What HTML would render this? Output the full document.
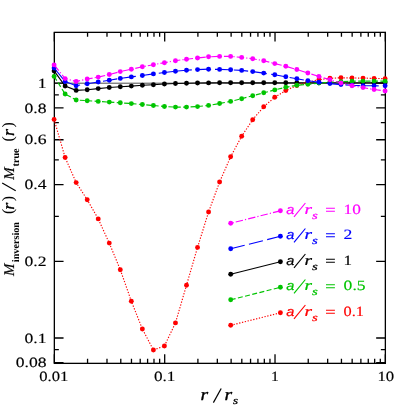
<!DOCTYPE html>
<html><head><meta charset="utf-8"><title>plot</title><style>
html,body{margin:0;padding:0;background:#fff;}
body{width:407px;height:407px;overflow:hidden;}
svg{display:block;will-change:transform;}
text{font-family:"Liberation Sans",sans-serif;text-rendering:geometricPrecision;}
.tl{font-family:"Liberation Serif",serif;font-size:142px;fill:#000;stroke:#000;stroke-width:1.5px;}
.lv{font-family:"Liberation Serif",serif;font-size:142px;stroke-width:1.5px;}
.sa{font-family:"Liberation Sans",sans-serif;font-style:italic;font-size:132px;}
.ri{font-family:"Liberation Serif",serif;font-style:italic;font-size:148px;}
.si{font-family:"Liberation Serif",serif;font-style:italic;font-size:110px;}
.rb{font-family:"Liberation Serif",serif;font-style:italic;font-size:170px;fill:#000;stroke:#000;stroke-width:3.5px;}
.sb{font-family:"Liberation Serif",serif;font-style:italic;font-size:108px;fill:#000;stroke:#000;stroke-width:3px;}
.mi{font-family:"Liberation Serif",serif;font-style:italic;font-size:150px;fill:#000;stroke:#000;stroke-width:2px;}
.par{font-family:"Liberation Serif",serif;font-size:160px;fill:#000;}
.sub{font-family:"Liberation Serif",serif;font-weight:bold;font-size:102px;fill:#000;}
</style></head><body>
<svg width="407" height="407" viewBox="0 0 407 407">
<rect width="407" height="407" fill="#fff"/>
<line x1="54.35" y1="83.2" x2="385.36" y2="83.2" stroke="#000" stroke-width="0.7"/>
<path d="M54.35 363.36 v-9.2 M54.35 32.36 v9.2 M87.56 363.36 v-4.5 M87.56 32.36 v4.5 M106.99 363.36 v-4.5 M106.99 32.36 v4.5 M120.78 363.36 v-4.5 M120.78 32.36 v4.5 M131.47 363.36 v-4.5 M131.47 32.36 v4.5 M140.21 363.36 v-4.5 M140.21 32.36 v4.5 M147.60 363.36 v-4.5 M147.60 32.36 v4.5 M153.99 363.36 v-4.5 M153.99 32.36 v4.5 M159.64 363.36 v-4.5 M159.64 32.36 v4.5 M164.69 363.36 v-9.2 M164.69 32.36 v9.2 M197.90 363.36 v-4.5 M197.90 32.36 v4.5 M217.33 363.36 v-4.5 M217.33 32.36 v4.5 M231.12 363.36 v-4.5 M231.12 32.36 v4.5 M241.81 363.36 v-4.5 M241.81 32.36 v4.5 M250.55 363.36 v-4.5 M250.55 32.36 v4.5 M257.93 363.36 v-4.5 M257.93 32.36 v4.5 M264.33 363.36 v-4.5 M264.33 32.36 v4.5 M269.97 363.36 v-4.5 M269.97 32.36 v4.5 M275.02 363.36 v-9.2 M275.02 32.36 v9.2 M308.24 363.36 v-4.5 M308.24 32.36 v4.5 M327.67 363.36 v-4.5 M327.67 32.36 v4.5 M341.45 363.36 v-4.5 M341.45 32.36 v4.5 M352.15 363.36 v-4.5 M352.15 32.36 v4.5 M360.88 363.36 v-4.5 M360.88 32.36 v4.5 M368.27 363.36 v-4.5 M368.27 32.36 v4.5 M374.67 363.36 v-4.5 M374.67 32.36 v4.5 M380.31 363.36 v-4.5 M380.31 32.36 v4.5 M385.36 363.36 v-9.2 M385.36 32.36 v9.2 M385.36 363.36 v-9.2 M385.36 32.36 v9.2 M54.35 362.69 h9.2 M385.36 362.69 h-9.2 M54.35 338.00 h9.2 M385.36 338.00 h-9.2 M54.35 261.30 h9.2 M385.36 261.30 h-9.2 M54.35 184.60 h9.2 M385.36 184.60 h-9.2 M54.35 139.73 h9.2 M385.36 139.73 h-9.2 M54.35 107.89 h9.2 M385.36 107.89 h-9.2 M54.35 83.20 h9.2 M385.36 83.20 h-9.2 M54.35 349.66 h4.5 M385.36 349.66 h-4.5 M54.35 216.43 h4.5 M385.36 216.43 h-4.5 M54.35 159.90 h4.5 M385.36 159.90 h-4.5 M54.35 122.67 h4.5 M385.36 122.67 h-4.5 M54.35 94.86 h4.5 M385.36 94.86 h-4.5" stroke="#000" stroke-width="1.3" fill="none"/>
<rect x="54.35" y="32.36" width="331.01" height="331.00" fill="none" stroke="#000" stroke-width="1.31"/>
<polyline points="54.10,70.90 65.13,86.00 76.17,90.40 87.20,89.70 98.23,88.60 109.27,87.50 120.30,86.70 131.33,86.10 142.37,85.30 153.40,84.70 164.43,84.00 175.47,83.50 186.50,83.20 197.53,83.00 208.57,82.90 219.60,82.80 230.63,82.80 241.67,82.80 252.70,82.80 263.73,82.80 274.77,82.80 285.80,82.80 296.83,82.80 307.87,82.80 318.90,82.80 329.93,82.80 340.97,82.80 352.00,82.80 363.03,82.80 374.07,82.80 385.10,82.80" fill="none" stroke="#000000" stroke-width="1.15"/>
<g fill="#000000"><circle cx="54.10" cy="70.90" r="2.45"/><circle cx="65.13" cy="86.00" r="2.45"/><circle cx="76.17" cy="90.40" r="2.45"/><circle cx="87.20" cy="89.70" r="2.45"/><circle cx="98.23" cy="88.60" r="2.45"/><circle cx="109.27" cy="87.50" r="2.45"/><circle cx="120.30" cy="86.70" r="2.45"/><circle cx="131.33" cy="86.10" r="2.45"/><circle cx="142.37" cy="85.30" r="2.45"/><circle cx="153.40" cy="84.70" r="2.45"/><circle cx="164.43" cy="84.00" r="2.45"/><circle cx="175.47" cy="83.50" r="2.45"/><circle cx="186.50" cy="83.20" r="2.45"/><circle cx="197.53" cy="83.00" r="2.45"/><circle cx="208.57" cy="82.90" r="2.45"/><circle cx="219.60" cy="82.80" r="2.45"/><circle cx="230.63" cy="82.80" r="2.45"/><circle cx="241.67" cy="82.80" r="2.45"/><circle cx="252.70" cy="82.80" r="2.45"/><circle cx="263.73" cy="82.80" r="2.45"/><circle cx="274.77" cy="82.80" r="2.45"/><circle cx="285.80" cy="82.80" r="2.45"/><circle cx="296.83" cy="82.80" r="2.45"/><circle cx="307.87" cy="82.80" r="2.45"/><circle cx="318.90" cy="82.80" r="2.45"/><circle cx="329.93" cy="82.80" r="2.45"/><circle cx="340.97" cy="82.80" r="2.45"/><circle cx="352.00" cy="82.80" r="2.45"/><circle cx="363.03" cy="82.80" r="2.45"/><circle cx="374.07" cy="82.80" r="2.45"/><circle cx="385.10" cy="82.80" r="2.45"/></g>
<polyline points="54.10,119.40 65.13,157.50 76.17,182.60 87.20,199.70 98.23,218.90 109.27,243.10 120.30,269.70 131.33,301.20 142.37,329.00 153.40,350.00 164.43,346.00 175.47,322.90 186.50,285.20 197.53,247.40 208.57,212.00 219.60,182.00 230.63,156.80 241.67,136.20 252.70,119.70 263.73,106.70 274.77,97.30 285.80,90.50 296.83,85.50 307.87,82.00 318.90,79.80 329.93,78.30 340.97,77.80 352.00,78.00 363.03,78.10 374.07,78.40 385.10,78.70" fill="none" stroke="#ff0000" stroke-width="1.15" stroke-dasharray="1.3 1.6"/>
<g fill="#ff0000"><circle cx="54.10" cy="119.40" r="2.45"/><circle cx="65.13" cy="157.50" r="2.45"/><circle cx="76.17" cy="182.60" r="2.45"/><circle cx="87.20" cy="199.70" r="2.45"/><circle cx="98.23" cy="218.90" r="2.45"/><circle cx="109.27" cy="243.10" r="2.45"/><circle cx="120.30" cy="269.70" r="2.45"/><circle cx="131.33" cy="301.20" r="2.45"/><circle cx="142.37" cy="329.00" r="2.45"/><circle cx="153.40" cy="350.00" r="2.45"/><circle cx="164.43" cy="346.00" r="2.45"/><circle cx="175.47" cy="322.90" r="2.45"/><circle cx="186.50" cy="285.20" r="2.45"/><circle cx="197.53" cy="247.40" r="2.45"/><circle cx="208.57" cy="212.00" r="2.45"/><circle cx="219.60" cy="182.00" r="2.45"/><circle cx="230.63" cy="156.80" r="2.45"/><circle cx="241.67" cy="136.20" r="2.45"/><circle cx="252.70" cy="119.70" r="2.45"/><circle cx="263.73" cy="106.70" r="2.45"/><circle cx="274.77" cy="97.30" r="2.45"/><circle cx="285.80" cy="90.50" r="2.45"/><circle cx="296.83" cy="85.50" r="2.45"/><circle cx="307.87" cy="82.00" r="2.45"/><circle cx="318.90" cy="79.80" r="2.45"/><circle cx="329.93" cy="78.30" r="2.45"/><circle cx="340.97" cy="77.80" r="2.45"/><circle cx="352.00" cy="78.00" r="2.45"/><circle cx="363.03" cy="78.10" r="2.45"/><circle cx="374.07" cy="78.40" r="2.45"/><circle cx="385.10" cy="78.70" r="2.45"/></g>
<polyline points="54.10,76.40 65.13,94.00 76.17,100.00 87.20,100.70 98.23,101.40 109.27,102.10 120.30,102.80 131.33,103.60 142.37,104.50 153.40,105.50 164.43,106.50 175.47,107.10 186.50,107.10 197.53,106.60 208.57,105.40 219.60,103.50 230.63,101.40 241.67,98.70 252.70,95.70 263.73,92.80 274.77,89.90 285.80,87.20 296.83,85.30 307.87,84.20 318.90,83.10 329.93,82.20 340.97,81.60 352.00,81.20 363.03,81.10 374.07,81.10 385.10,81.20" fill="none" stroke="#00c400" stroke-width="1.15" stroke-dasharray="5 2.4"/>
<g fill="#00c400"><circle cx="54.10" cy="76.40" r="2.45"/><circle cx="65.13" cy="94.00" r="2.45"/><circle cx="76.17" cy="100.00" r="2.45"/><circle cx="87.20" cy="100.70" r="2.45"/><circle cx="98.23" cy="101.40" r="2.45"/><circle cx="109.27" cy="102.10" r="2.45"/><circle cx="120.30" cy="102.80" r="2.45"/><circle cx="131.33" cy="103.60" r="2.45"/><circle cx="142.37" cy="104.50" r="2.45"/><circle cx="153.40" cy="105.50" r="2.45"/><circle cx="164.43" cy="106.50" r="2.45"/><circle cx="175.47" cy="107.10" r="2.45"/><circle cx="186.50" cy="107.10" r="2.45"/><circle cx="197.53" cy="106.60" r="2.45"/><circle cx="208.57" cy="105.40" r="2.45"/><circle cx="219.60" cy="103.50" r="2.45"/><circle cx="230.63" cy="101.40" r="2.45"/><circle cx="241.67" cy="98.70" r="2.45"/><circle cx="252.70" cy="95.70" r="2.45"/><circle cx="263.73" cy="92.80" r="2.45"/><circle cx="274.77" cy="89.90" r="2.45"/><circle cx="285.80" cy="87.20" r="2.45"/><circle cx="296.83" cy="85.30" r="2.45"/><circle cx="307.87" cy="84.20" r="2.45"/><circle cx="318.90" cy="83.10" r="2.45"/><circle cx="329.93" cy="82.20" r="2.45"/><circle cx="340.97" cy="81.60" r="2.45"/><circle cx="352.00" cy="81.20" r="2.45"/><circle cx="363.03" cy="81.10" r="2.45"/><circle cx="374.07" cy="81.10" r="2.45"/><circle cx="385.10" cy="81.20" r="2.45"/></g>
<polyline points="54.10,68.00 65.13,81.50 76.17,85.70 87.20,83.80 98.23,82.00 109.27,80.20 120.30,78.40 131.33,76.90 142.37,75.50 153.40,73.90 164.43,72.50 175.47,71.20 186.50,70.20 197.53,69.60 208.57,69.20 219.60,69.40 230.63,69.80 241.67,70.40 252.70,71.60 263.73,73.10 274.77,74.80 285.80,76.80 296.83,78.70 307.87,80.70 318.90,82.20 329.93,83.60 340.97,84.60 352.00,85.30 363.03,85.70 374.07,85.80 385.10,85.80" fill="none" stroke="#0000ff" stroke-width="1.15" stroke-dasharray="14.4 4.4"/>
<g fill="#0000ff"><circle cx="54.10" cy="68.00" r="2.45"/><circle cx="65.13" cy="81.50" r="2.45"/><circle cx="76.17" cy="85.70" r="2.45"/><circle cx="87.20" cy="83.80" r="2.45"/><circle cx="98.23" cy="82.00" r="2.45"/><circle cx="109.27" cy="80.20" r="2.45"/><circle cx="120.30" cy="78.40" r="2.45"/><circle cx="131.33" cy="76.90" r="2.45"/><circle cx="142.37" cy="75.50" r="2.45"/><circle cx="153.40" cy="73.90" r="2.45"/><circle cx="164.43" cy="72.50" r="2.45"/><circle cx="175.47" cy="71.20" r="2.45"/><circle cx="186.50" cy="70.20" r="2.45"/><circle cx="197.53" cy="69.60" r="2.45"/><circle cx="208.57" cy="69.20" r="2.45"/><circle cx="219.60" cy="69.40" r="2.45"/><circle cx="230.63" cy="69.80" r="2.45"/><circle cx="241.67" cy="70.40" r="2.45"/><circle cx="252.70" cy="71.60" r="2.45"/><circle cx="263.73" cy="73.10" r="2.45"/><circle cx="274.77" cy="74.80" r="2.45"/><circle cx="285.80" cy="76.80" r="2.45"/><circle cx="296.83" cy="78.70" r="2.45"/><circle cx="307.87" cy="80.70" r="2.45"/><circle cx="318.90" cy="82.20" r="2.45"/><circle cx="329.93" cy="83.60" r="2.45"/><circle cx="340.97" cy="84.60" r="2.45"/><circle cx="352.00" cy="85.30" r="2.45"/><circle cx="363.03" cy="85.70" r="2.45"/><circle cx="374.07" cy="85.80" r="2.45"/><circle cx="385.10" cy="85.80" r="2.45"/></g>
<polyline points="54.10,64.90 65.13,78.60 76.17,81.50 87.20,79.00 98.23,77.10 109.27,74.50 120.30,71.60 131.33,69.20 142.37,66.80 153.40,64.70 164.43,62.70 175.47,60.70 186.50,59.20 197.53,58.00 208.57,56.80 219.60,56.40 230.63,56.40 241.67,57.40 252.70,58.80 263.73,60.70 274.77,63.60 285.80,66.30 296.83,69.50 307.87,73.00 318.90,76.40 329.93,79.80 340.97,83.00 352.00,85.80 363.03,87.60 374.07,89.50 385.10,91.00" fill="none" stroke="#ff00ff" stroke-width="1.15" stroke-dasharray="7.4 2.1 1.2 2.1"/>
<g fill="#ff00ff"><circle cx="54.10" cy="64.90" r="2.45"/><circle cx="65.13" cy="78.60" r="2.45"/><circle cx="76.17" cy="81.50" r="2.45"/><circle cx="87.20" cy="79.00" r="2.45"/><circle cx="98.23" cy="77.10" r="2.45"/><circle cx="109.27" cy="74.50" r="2.45"/><circle cx="120.30" cy="71.60" r="2.45"/><circle cx="131.33" cy="69.20" r="2.45"/><circle cx="142.37" cy="66.80" r="2.45"/><circle cx="153.40" cy="64.70" r="2.45"/><circle cx="164.43" cy="62.70" r="2.45"/><circle cx="175.47" cy="60.70" r="2.45"/><circle cx="186.50" cy="59.20" r="2.45"/><circle cx="197.53" cy="58.00" r="2.45"/><circle cx="208.57" cy="56.80" r="2.45"/><circle cx="219.60" cy="56.40" r="2.45"/><circle cx="230.63" cy="56.40" r="2.45"/><circle cx="241.67" cy="57.40" r="2.45"/><circle cx="252.70" cy="58.80" r="2.45"/><circle cx="263.73" cy="60.70" r="2.45"/><circle cx="274.77" cy="63.60" r="2.45"/><circle cx="285.80" cy="66.30" r="2.45"/><circle cx="296.83" cy="69.50" r="2.45"/><circle cx="307.87" cy="73.00" r="2.45"/><circle cx="318.90" cy="76.40" r="2.45"/><circle cx="329.93" cy="79.80" r="2.45"/><circle cx="340.97" cy="83.00" r="2.45"/><circle cx="352.00" cy="85.80" r="2.45"/><circle cx="363.03" cy="87.60" r="2.45"/><circle cx="374.07" cy="89.50" r="2.45"/><circle cx="385.10" cy="91.00" r="2.45"/></g>
<line x1="230.7" y1="223.30" x2="280.4" y2="210.80" stroke="#ff00ff" stroke-width="1.15" stroke-dasharray="7.4 2.1 1.2 2.1" stroke-dashoffset="7.6"/>
<circle cx="230.7" cy="223.30" r="2.45" fill="#ff00ff"/><circle cx="280.4" cy="210.80" r="2.45" fill="#ff00ff"/>
<g fill="#ff00ff" stroke="#ff00ff" id="leg0">
<text class="sa" transform="translate(286.2,213.90) scale(0.1100,0.1)" stroke-width="2.2">a</text>
<line x1="294.0" y1="216.80" x2="305.4" y2="203.00" stroke-width="1.15"/>
<text class="ri" transform="translate(304.6,213.90) scale(0.1300,0.1)" stroke-width="2.2">r</text>
<text class="si" transform="translate(312.0,218.50) scale(0.1350,0.1)" stroke-width="2.2">s</text>
<path d="M326 208.30 h8.9 M326 211.20 h8.9" stroke-width="1.1" fill="none"/>
<text class="lv" transform="translate(343.6,213.90) scale(0.1220,0.1)">10</text>
</g>
<line x1="230.7" y1="248.80" x2="280.4" y2="236.30" stroke="#0000ff" stroke-width="1.15" stroke-dasharray="14.4 4.4"/>
<circle cx="230.7" cy="248.80" r="2.45" fill="#0000ff"/><circle cx="280.4" cy="236.30" r="2.45" fill="#0000ff"/>
<g fill="#0000ff" stroke="#0000ff" id="leg1">
<text class="sa" transform="translate(286.2,239.40) scale(0.1100,0.1)" stroke-width="2.2">a</text>
<line x1="294.0" y1="242.30" x2="305.4" y2="228.50" stroke-width="1.15"/>
<text class="ri" transform="translate(304.6,239.40) scale(0.1300,0.1)" stroke-width="2.2">r</text>
<text class="si" transform="translate(312.0,244.00) scale(0.1350,0.1)" stroke-width="2.2">s</text>
<path d="M326 233.80 h8.9 M326 236.70 h8.9" stroke-width="1.1" fill="none"/>
<text class="lv" transform="translate(343.6,239.40) scale(0.1245,0.1)">2</text>
</g>
<line x1="230.7" y1="274.30" x2="280.4" y2="261.80" stroke="#000000" stroke-width="1.15"/>
<circle cx="230.7" cy="274.30" r="2.45" fill="#000000"/><circle cx="280.4" cy="261.80" r="2.45" fill="#000000"/>
<g fill="#000000" stroke="#000000" id="leg2">
<text class="sa" transform="translate(286.2,264.90) scale(0.1100,0.1)" stroke-width="2.2">a</text>
<line x1="294.0" y1="267.80" x2="305.4" y2="254.00" stroke-width="1.15"/>
<text class="ri" transform="translate(304.6,264.90) scale(0.1300,0.1)" stroke-width="2.2">r</text>
<text class="si" transform="translate(312.0,269.50) scale(0.1350,0.1)" stroke-width="2.2">s</text>
<path d="M326 259.30 h8.9 M326 262.20 h8.9" stroke-width="1.1" fill="none"/>
<text class="lv" transform="translate(343.6,264.90) scale(0.1200,0.1)">1</text>
</g>
<line x1="230.7" y1="299.80" x2="280.4" y2="287.30" stroke="#00c400" stroke-width="1.15" stroke-dasharray="5 2.4"/>
<circle cx="230.7" cy="299.80" r="2.45" fill="#00c400"/><circle cx="280.4" cy="287.30" r="2.45" fill="#00c400"/>
<g fill="#00c400" stroke="#00c400" id="leg3">
<text class="sa" transform="translate(286.2,290.40) scale(0.1100,0.1)" stroke-width="2.2">a</text>
<line x1="294.0" y1="293.30" x2="305.4" y2="279.50" stroke-width="1.15"/>
<text class="ri" transform="translate(304.6,290.40) scale(0.1300,0.1)" stroke-width="2.2">r</text>
<text class="si" transform="translate(312.0,295.00) scale(0.1350,0.1)" stroke-width="2.2">s</text>
<path d="M326 284.80 h8.9 M326 287.70 h8.9" stroke-width="1.1" fill="none"/>
<text class="lv" transform="translate(343.6,290.40) scale(0.1245,0.1)">0.5</text>
</g>
<line x1="230.7" y1="325.30" x2="280.4" y2="312.80" stroke="#ff0000" stroke-width="1.15" stroke-dasharray="1.3 1.6"/>
<circle cx="230.7" cy="325.30" r="2.45" fill="#ff0000"/><circle cx="280.4" cy="312.80" r="2.45" fill="#ff0000"/>
<g fill="#ff0000" stroke="#ff0000" id="leg4">
<text class="sa" transform="translate(286.2,315.90) scale(0.1100,0.1)" stroke-width="2.2">a</text>
<line x1="294.0" y1="318.80" x2="305.4" y2="305.00" stroke-width="1.15"/>
<text class="ri" transform="translate(304.6,315.90) scale(0.1300,0.1)" stroke-width="2.2">r</text>
<text class="si" transform="translate(312.0,320.50) scale(0.1350,0.1)" stroke-width="2.2">s</text>
<path d="M326 310.30 h8.9 M326 313.20 h8.9" stroke-width="1.1" fill="none"/>
<text class="lv" transform="translate(343.6,315.90) scale(0.1150,0.1)">0.1</text>
</g>
<text class="tl" text-anchor="end" transform="translate(46.60,88.00) scale(0.1245,0.1)">1</text>
<text class="tl" text-anchor="end" transform="translate(46.60,113.00) scale(0.1245,0.1)">0.8</text>
<text class="tl" text-anchor="end" transform="translate(46.60,144.00) scale(0.1245,0.1)">0.6</text>
<text class="tl" text-anchor="end" transform="translate(46.60,189.00) scale(0.1245,0.1)">0.4</text>
<text class="tl" text-anchor="end" transform="translate(46.60,266.00) scale(0.1245,0.1)">0.2</text>
<text class="tl" text-anchor="end" transform="translate(46.60,343.00) scale(0.1245,0.1)">0.1</text>
<text class="tl" text-anchor="end" transform="translate(46.60,367.00) scale(0.1245,0.1)">0.08</text>
<text class="tl" text-anchor="middle" transform="translate(53.75,381.00) scale(0.1170,0.1)">0.01</text>
<text class="tl" text-anchor="middle" transform="translate(164.69,381.00) scale(0.1210,0.1)">0.1</text>
<text class="tl" text-anchor="middle" transform="translate(275.02,381.00) scale(0.1100,0.1)">1</text>
<text class="tl" text-anchor="middle" transform="translate(385.76,381.00) scale(0.1180,0.1)">10</text>
<g id="xlab">
<text class="rb" transform="translate(200.4,399.9) scale(0.1150,0.1)">r</text>
<line x1="213.4" y1="402.6" x2="221.2" y2="388.5" stroke="#000" stroke-width="1.2"/>
<text class="rb" transform="translate(224.4,399.9) scale(0.1150,0.1)">r</text>
<text class="sb" transform="translate(233.0,404.0) scale(0.1200,0.1)">s</text>
</g>
<g id="ylab" transform="translate(14.1,276) rotate(-90)">
<text class="mi" transform="translate(0.00,0.00) scale(0.1000,0.1)">M</text>
<text class="sub" transform="translate(13.80,4.40) scale(0.1000,0.1)">inversion</text>
<text class="par" transform="translate(62.00,-1.00) scale(0.1000,0.1)">(</text>
<text class="rb" transform="translate(66.20,0.00) scale(0.1050,0.1)">r</text>
<text class="par" transform="translate(74.80,-1.00) scale(0.1000,0.1)">)</text>
<line x1="85.3" y1="1.6" x2="93.0" y2="-11.9" stroke="#000" stroke-width="1.2"/>
<text class="mi" transform="translate(96.30,0.00) scale(0.1000,0.1)">M</text>
<text class="sub" transform="translate(109.50,4.40) scale(0.1000,0.1)">true</text>
<text class="par" transform="translate(134.50,-1.00) scale(0.1000,0.1)">(</text>
<text class="rb" transform="translate(140.00,0.00) scale(0.1050,0.1)">r</text>
<text class="par" transform="translate(148.50,-1.00) scale(0.1000,0.1)">)</text>
</g>
</svg>
</body></html>
